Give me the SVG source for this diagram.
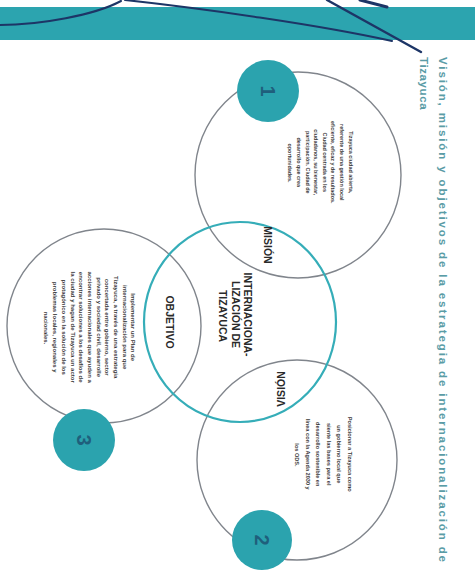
<svg xmlns="http://www.w3.org/2000/svg" width="475" height="577" viewBox="0 0 475 577">
<style>
.circ{fill:none;stroke:#80858c;stroke-width:1.4}
.core{fill:none;stroke:#35adb8;stroke-width:2.2}
.badge{fill:#2ba3ae}
.num{font-family:"Liberation Sans",Arial,sans-serif;font-weight:bold;font-size:20px;fill:#1f5f7c;text-anchor:middle}
.lbl{font-family:"Liberation Sans",Arial,sans-serif;font-weight:bold;font-size:10.5px;fill:#2a2a2a;text-anchor:middle}
.para{font-family:"Liberation Sans",Arial,sans-serif;font-weight:bold;fill:#3b3b3b;text-anchor:middle}
.title{font-family:"Liberation Sans",Arial,sans-serif;font-weight:bold;font-size:11.5px;fill:#5a9ca6}
.ink{fill:none;stroke:#1d3566;stroke-linecap:round}
</style>
<rect width="475" height="577" fill="#ffffff"/>
<g id="band">
<rect x="0" y="7" width="475" height="33" fill="#2ca4af"/>
</g>
<g id="ink">
<path class="ink" stroke-width="2" d="M0,25 C40,25 95,15 121,1"/>
<path class="ink" stroke-width="2" d="M125,0 C200,8 320,25 392,41"/>
<path class="ink" stroke-width="2.4" d="M327,0 L421,52"/>
<path class="ink" stroke-width="3" d="M360,0 L387,7"/>
</g>
<g id="title">
<text class="title" transform="translate(438.5,57) rotate(90)" textLength="505" lengthAdjust="spacing">Visión, misión y objetivos de la estrategia de internacionalización de</text>
<text class="title" transform="translate(419.5,57) rotate(90)" letter-spacing="0.6">Tizayuca</text>
</g>
<g id="connectors">
<circle class="circ" cx="298" cy="175" r="103"/>
<circle class="circ" cx="297" cy="460" r="100"/>
<circle class="circ" cx="104" cy="326" r="97"/>
<ellipse class="core" cx="240" cy="322" rx="96" ry="100"/>
</g>
<g id="centro">
<text class="lbl" transform="translate(244,316) rotate(90)">
<tspan x="0" dy="0">INTERNACIONA-</tspan>
<tspan x="0" dy="12.5">LIZACIÓN DE</tspan>
<tspan x="0" dy="12.5">TIZAYUCA</tspan>
</text>
</g>
<g id="mision">
<circle class="badge" cx="268" cy="91" r="31"/>
<text class="num" transform="translate(268,91) rotate(90)" dy="7">1</text>
<text class="lbl" transform="translate(264,245) rotate(90)">MISIÓN</text>
<text class="para" font-size="5.4" transform="translate(348.5,163) rotate(90)">
<tspan x="0" dy="0">Tizayuca ciudad abierta,</tspan>
<tspan x="0" dy="8.6">referente de una gestión local</tspan>
<tspan x="0" dy="8.6">eficiente, eficaz y de resultados.</tspan>
<tspan x="0" dy="8.6">Ciudad centrada en los</tspan>
<tspan x="0" dy="8.6">ciudadanos, su bienestar,</tspan>
<tspan x="0" dy="8.6">participación. Ciudad de</tspan>
<tspan x="0" dy="8.6">desarrollo que crea</tspan>
<tspan x="0" dy="8.6">oportunidades.</tspan>
</text>
</g>
<g id="vision">
<circle class="badge" cx="262" cy="540" r="30"/>
<text class="num" transform="translate(262,540) rotate(90)" dy="7">2</text>
<text class="lbl" transform="translate(285,389) rotate(-90)">VISIÓN</text>
<text class="para" font-size="5.6" transform="translate(347.5,455) rotate(90)">
<tspan x="0" dy="0">Posicionar a Tizayuca como</tspan>
<tspan x="0" dy="10.5">un gobierno local que</tspan>
<tspan x="0" dy="10.5">siente las bases para el</tspan>
<tspan x="0" dy="10.5">desarrollo sostenible en</tspan>
<tspan x="0" dy="10.5">línea con la Agenda 2030 y</tspan>
<tspan x="0" dy="10.5">los ODS.</tspan>
</text>
</g>
<g id="objetivo">
<circle class="badge" cx="84" cy="440" r="31"/>
<text class="num" transform="translate(84,440) rotate(90)" dy="7">3</text>
<text class="lbl" transform="translate(166,322) rotate(90)">OBJETIVO</text>
<text class="para" font-size="6" transform="translate(131.4,328) rotate(90)">
<tspan x="0" dy="0">Implementar un Plan de</tspan>
<tspan x="0" dy="8.7">internacionalización para que</tspan>
<tspan x="0" dy="8.7">Tizayuca, a través de una estrategia</tspan>
<tspan x="0" dy="8.7">concertada entre gobierno, sector</tspan>
<tspan x="0" dy="8.7">privado y sociedad civil, desarrolle</tspan>
<tspan x="0" dy="8.7">acciones internacionales que ayuden a</tspan>
<tspan x="0" dy="8.7">encontrar soluciones a los desafíos de</tspan>
<tspan x="0" dy="8.7">la ciudad y hagan de Tizayuca un actor</tspan>
<tspan x="0" dy="8.7">protagónico en la solución de los</tspan>
<tspan x="0" dy="8.7">problemas locales, regionales y</tspan>
<tspan x="0" dy="8.7">nacionales.</tspan>
</text>
</g>
</svg>
